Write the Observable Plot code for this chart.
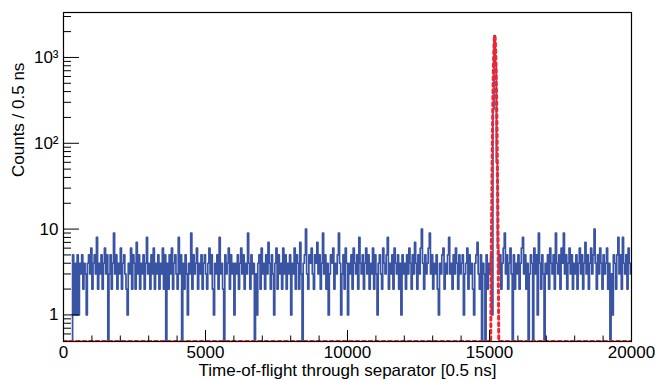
<!DOCTYPE html>
<html><head><meta charset="utf-8">
<script src="https://cdn.jsdelivr.net/npm/d3@7"></script>
<script src="https://cdn.jsdelivr.net/npm/@observablehq/plot@0.6"></script>
<style>body{margin:0;background:#fff} #chart{width:655px;height:380px}</style>
</head><body><div id="chart"></div>
<script>
// ---- data ----
const binStart = 0;
const binWidth = 40;
const counts = [
  0,0,0,0,0,0,0,0,5,1,4,1,5,1,4,3,5,2,4,3,1,4,5,3,6,
  2,4,5,3,8,2,4,3,5,2,4,6,3,5,0,3,5,2,4,9,3,5,2,4,3,
  6,2,4,5,3,2,1,4,3,6,2,5,4,2,7,3,5,2,4,3,5,2,4,8,3,
  4,2,5,3,6,2,4,3,5,2,4,3,6,2,5,0,4,2,5,3,6,2,4,5,3,
  2,8,3,5,0,4,2,5,3,1,4,3,9,2,5,3,4,6,2,4,3,5,2,4,5,
  3,2,4,6,3,5,2,1,4,3,5,2,8,3,4,2,0,5,3,4,6,2,5,3,4,
  1,4,3,5,2,4,6,3,5,2,4,3,9,4,2,5,3,4,0,3,1,4,5,2,6,
  3,4,2,5,3,7,4,2,5,3,1,4,6,2,5,3,4,2,6,3,5,2,4,3,5,
  1,4,3,6,2,5,4,2,7,3,0,4,5,10,3,2,5,4,6,3,2,5,4,7,3,
  5,2,4,9,3,5,2,4,1,3,5,4,6,2,4,3,5,9,4,1,3,5,2,6,4,
  1,4,3,5,2,6,4,3,5,2,8,4,3,5,2,4,6,3,5,2,4,3,6,2,5,
  3,1,4,5,3,2,6,4,3,5,8,2,4,3,5,2,6,4,3,5,2,4,1,5,3,
  4,2,5,3,6,4,2,5,3,7,4,2,5,3,6,10,4,2,5,3,4,6,9,3,5,
  2,4,3,5,2,1,4,3,5,6,2,4,3,5,8,3,4,2,5,3,6,4,2,5,3,
  4,5,1,3,4,6,2,5,3,4,2,1,4,5,7,3,2,5,0,4,3,0,5,2,4,
  3,5,1,250,1800,800,60,6,3,5,2,4,6,9,3,5,2,4,6,3,0,5,2,4,3,
  5,2,4,6,8,3,5,2,4,0,3,5,4,0,6,3,5,1,9,4,2,5,3,0,4,
  3,5,2,6,4,3,5,2,9,4,3,5,2,6,4,9,3,5,2,4,6,3,5,2,4,
  3,5,2,4,6,3,5,2,4,7,3,5,2,4,6,3,5,10,4,2,5,3,6,4,2,
  5,3,4,6,2,4,0,3,1,5,4,2,5,8,3,5,2,8,4,3,5,2,6,4,3
];
// Gaussian fit parameters
const fitAmplitude = 1800;
const fitMean = 15185;
const fitSigma = 35;

const xDomain = [0, 20000];
const yDomain = [0.49, 3340];
const xMajorTicks = [0, 5000, 10000, 15000, 20000];
const xMinorTicks = [1000, 2000, 3000, 4000, 6000, 7000, 8000, 9000, 11000, 12000, 13000, 14000, 16000, 17000, 18000, 19000];
const yMajorTicks = [1, 10, 100, 1000];
const yTickLabels = ["1", "10", "10²", "10³"];
const yMinorTicks = [0.6, 0.7, 0.8, 0.9, 2, 3, 4, 5, 6, 7, 8, 9, 20, 30, 40, 50, 60, 70, 80, 90, 200, 300, 400, 500, 600, 700, 800, 900, 2000, 3000];
const xTitle = "Time-of-flight through separator [0.5 ns]";
const yTitle = "Counts / 0.5 ns";

// ---- build ----
const W = 655, H = 380, mL = 63, mR = 24, mT = 12, mB = 39;
const innerW = W - mL - mR, innerH = H - mT - mB;
const yMin = yDomain[0];

const steps = counts.map((c, i) => ({x: binStart + i * binWidth, y: Math.max(c, yMin)}));
steps.push({x: binStart + counts.length * binWidth, y: Math.max(counts[counts.length - 1], yMin)});

const fitX = d3.range(xDomain[0], xDomain[1] + 0.1, 2);
const fitPts = fitX.map(x => ({x, y: Math.max(fitAmplitude * Math.exp(-0.5 * ((x - fitMean) / fitSigma) ** 2), yMin)}));

const fs = 17;
const plot = Plot.plot({
  width: W, height: H,
  marginLeft: mL, marginRight: mR, marginTop: mT, marginBottom: mB,
  x: {domain: xDomain, axis: null},
  y: {type: "log", domain: yDomain, axis: null},
  style: {fontFamily: "'Liberation Sans', Arial, Helvetica, sans-serif", background: "white", color: "black"},
  marks: [
    Plot.lineY(steps, {x: "x", y: "y", curve: "step-after", stroke: "#3a54a4", strokeWidth: 1.7, clip: true}),
    Plot.lineY(fitPts, {x: "x", y: "y", stroke: "#f52530", strokeWidth: 3, strokeDasharray: "3,3.5", clip: true}),
    Plot.tickX(xMajorTicks, {x: d => d, insetTop: innerH - 11, stroke: "black"}),
    Plot.tickX(xMinorTicks, {x: d => d, insetTop: innerH - 5.5, stroke: "black"}),
    Plot.tickY(yMajorTicks, {y: d => d, insetRight: innerW - 16, stroke: "black"}),
    Plot.tickY(yMinorTicks, {y: d => d, insetRight: innerW - 8, stroke: "black"}),
    Plot.frame({stroke: "black", strokeWidth: 1.2}),
    Plot.text(xMajorTicks, {x: d => d, frameAnchor: "bottom", dy: 11, text: d => String(d), fontSize: fs, lineAnchor: "middle", fill: "black"}),
    Plot.text(yMajorTicks, {y: d => d, frameAnchor: "left", dx: -5, text: (d, i) => yTickLabels[i], textAnchor: "end", fontSize: fs, lineAnchor: "middle", fill: "black"}),
    Plot.text([xTitle], {frameAnchor: "bottom", dy: 29.5, text: d => d, fontSize: fs, lineAnchor: "middle", fill: "black"}),
    Plot.text([yTitle], {frameAnchor: "left", dx: -45, rotate: -90, text: d => d, fontSize: fs, lineAnchor: "middle", fill: "black"})
  ]
});
document.getElementById("chart").appendChild(plot);
</script>
</body></html>
